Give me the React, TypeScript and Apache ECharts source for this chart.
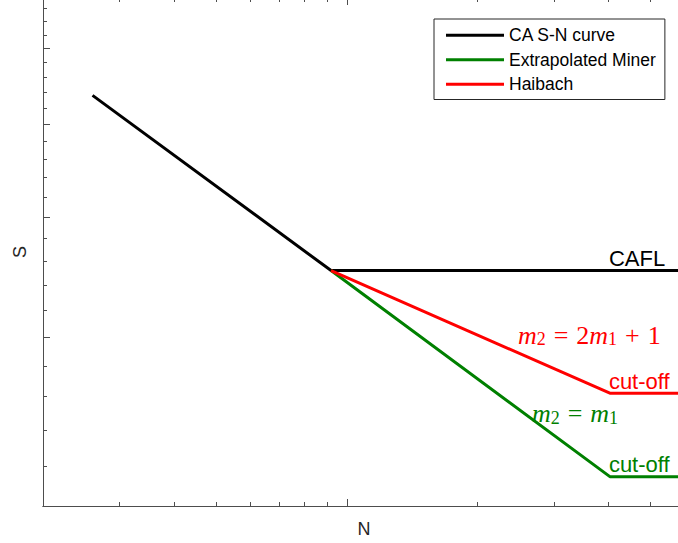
import React, { useEffect, useRef } from "react";
import * as echarts from "echarts";

const seriesNames = ["CA S-N curve", "Extrapolated Miner", "Haibach"];
const caN = [2.6, 9.2, 60];
const caS = [268, 176, 176];
const minerN = [9.2, 40.3, 60];
const minerS = [176, 107.3, 107.3];
const haibachN = [9.2, 40.3, 60];
const haibachS = [176, 131.1, 131.1];

const xMajorTicks = [10];
const xMinorTicks = [3, 4, 5, 6, 7, 8, 9, 20, 30, 40, 50];
const yMajorTicks = [150, 200, 250, 300];
const yMinorTicks = [110, 120, 130, 140, 160, 170, 180, 190, 210, 220, 230, 240, 260, 270, 280, 290, 310, 320, 330];

const X_MIN = 2;
const X_MAX = 60;
const Y_MIN = 100;
const Y_MAX = 338.6;

const AXIS_COLOR = "#4d4d4d";
const SANS = "'Liberation Sans', Arial, Helvetica, sans-serif";
const SERIF = "'Liberation Serif', 'Times New Roman', serif";
const RED = "#ff0000";
const GREEN = "#008000";

function xAx(position: string, ticks: number[], len: number, name?: string) {
  return {
    type: "log",
    logBase: 10,
    min: X_MIN,
    max: X_MAX,
    position,
    axisLine: { show: true, lineStyle: { color: AXIS_COLOR, width: 1 } },
    axisTick: { show: true, inside: true, length: len, customValues: ticks, lineStyle: { color: AXIS_COLOR, width: 1 } },
    axisLabel: { show: false },
    splitLine: { show: false },
    minorTick: { show: false },
    name: name || "",
    nameLocation: "middle",
    nameGap: 14,
    nameTextStyle: { fontFamily: SANS, fontSize: 18, color: "#262626" },
  };
}

function yAx(position: string, ticks: number[], len: number, name?: string) {
  return {
    type: "log",
    logBase: 10,
    min: Y_MIN,
    max: Y_MAX,
    position,
    axisLine: { show: true, lineStyle: { color: AXIS_COLOR, width: 1 } },
    axisTick: { show: true, inside: true, length: len, customValues: ticks, lineStyle: { color: AXIS_COLOR, width: 1 } },
    axisLabel: { show: false },
    splitLine: { show: false },
    minorTick: { show: false },
    name: name || "",
    nameLocation: "middle",
    nameGap: 14,
    nameTextStyle: { fontFamily: SANS, fontSize: 18, color: "#262626" },
  };
}

function mathRich(color: string) {
  const base = { fontFamily: SERIF, fill: color, verticalAlign: "bottom" };
  return {
    m: { ...base, fontStyle: "italic", fontSize: 26, lineHeight: 28 },
    s: { ...base, fontSize: 18, lineHeight: 14 },
    o: { ...base, fontSize: 26, lineHeight: 28, padding: [0, 8, 0, 8] },
    n: { ...base, fontSize: 26, lineHeight: 28 },
  };
}

export default function App() {
  const ref = useRef<HTMLDivElement>(null);

  useEffect(() => {
    if (!ref.current) return;
    const chart = echarts.init(ref.current, undefined, { renderer: "svg" });
    const colors = ["#000000", GREEN, RED];
    const data = [
      caN.map((n, i) => [n, caS[i]]),
      minerN.map((n, i) => [n, minerS[i]]),
      haibachN.map((n, i) => [n, haibachS[i]]),
    ];
    const option: any = {
      animation: false,
      backgroundColor: "#ffffff",
      grid: { left: 43, right: 0, top: 0, bottom: 36, containLabel: false },
      xAxis: [
        xAx("bottom", xMajorTicks, 7, "N"),
        xAx("bottom", xMinorTicks, 4),
        xAx("top", xMajorTicks, 7),
        xAx("top", xMinorTicks, 4),
      ],
      yAxis: [
        yAx("left", yMajorTicks, 7, "S"),
        yAx("left", yMinorTicks, 4),
      ],
      legend: {
        orient: "vertical",
        left: 434,
        top: 21,
        padding: [4, 9, 3, 12],
        itemWidth: 58,
        itemHeight: 3,
        itemGap: 0,
        icon: "rect",
        backgroundColor: "#ffffff",
        borderColor: "#262626",
        borderWidth: 1,
        borderRadius: 0,
        textStyle: { fontFamily: SANS, fontSize: 17.5, color: "#000000", lineHeight: 24.5 },
        data: seriesNames,
      },
      series: seriesNames.map((name, i) => ({
        type: "line",
        name,
        data: data[i],
        xAxisIndex: 0,
        yAxisIndex: 0,
        symbol: "none",
        clip: true,
        lineStyle: { color: colors[i], width: 3 },
        itemStyle: { color: colors[i] },
      })),
    };
    chart.setOption(option);

    const pt = (n: number, s: number) => chart.convertToPixel({ seriesIndex: 0 }, [n, s]) as number[];
    const cBlack = pt(minerN[1], caS[2]);
    const cRed = pt(haibachN[1], haibachS[1]);
    const cGreen = pt(minerN[1], minerS[1]);

    chart.setOption({
      graphic: [
        {
          type: "text",
          x: cBlack[0] - 1,
          y: cBlack[1] - 1,
          style: { text: "CAFL", fontFamily: SANS, fontSize: 22, fill: "#000000", align: "left", verticalAlign: "bottom" },
        },
        {
          type: "text",
          x: cRed[0] - 1,
          y: cRed[1] - 1,
          style: { text: "cut-off", fontFamily: SANS, fontSize: 22, fill: RED, align: "left", verticalAlign: "bottom" },
        },
        {
          type: "text",
          x: cGreen[0] - 1,
          y: cGreen[1] - 1,
          style: { text: "cut-off", fontFamily: SANS, fontSize: 22, fill: GREEN, align: "left", verticalAlign: "bottom" },
        },
        {
          type: "text",
          x: cRed[0] - 92,
          y: cRed[1] - 45,
          style: {
            text: "{m|m}{s|2}{o|=}{n|2}{m|m}{s|1}{o|+}{n|1}",
            fill: RED,
            align: "left",
            verticalAlign: "bottom",
            rich: mathRich(RED),
          },
        },
        {
          type: "text",
          x: cGreen[0] - 78,
          y: cGreen[1] - 50,
          style: {
            text: "{m|m}{s|2}{o|=}{m|m}{s|1}",
            fill: GREEN,
            align: "left",
            verticalAlign: "bottom",
            rich: mathRich(GREEN),
          },
        },
      ],
    });

    return () => chart.dispose();
  }, []);

  return (
    <div style={{ position: "absolute", left: 0, top: 0, width: 678, height: 543, overflow: "hidden" }}>
      <div ref={ref} style={{ position: "absolute", left: 0, top: -2, width: 685, height: 545 }} />
    </div>
  );
}
